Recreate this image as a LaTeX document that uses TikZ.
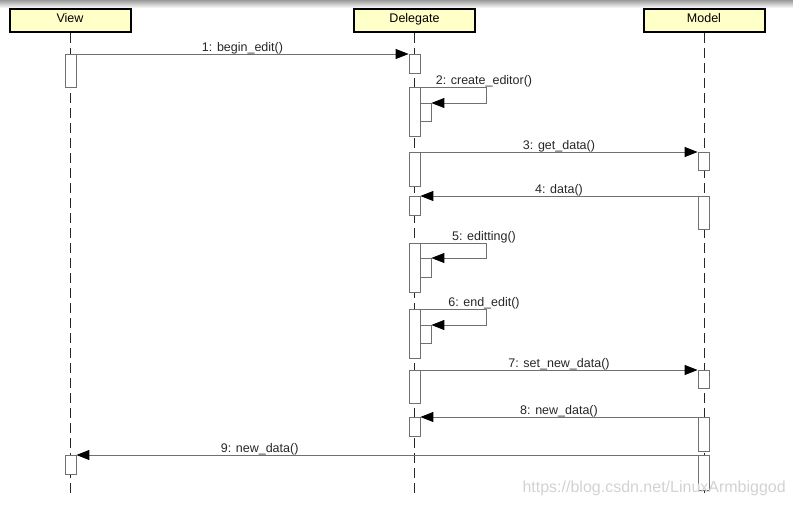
\documentclass[tikz,border=0pt]{standalone}
\usepackage{fontspec}
\setmainfont{Liberation Sans}
\usetikzlibrary{arrows.meta}
\tikzset{>={Triangle[length=13pt,width=10pt,color=black]}}
\definecolor{headyellow}{HTML}{FFFFC8}
\definecolor{msggray}{HTML}{707070}

\begin{document}
\begin{tikzpicture}[x=1pt, y=-1pt,
  head/.style={draw=black, line width=2pt, fill=headyellow, minimum width=121pt, minimum height=23pt, inner sep=0pt, text height=9pt, text depth=5pt, font=\fontsize{12.5}{14}\selectfont},
  life/.style={draw=black!85, line width=1pt, dash pattern=on 10pt off 5pt},
  act/.style={draw=msggray, line width=0.8pt, fill=white, minimum width=11pt, inner sep=0pt, anchor=north},
  msg/.style={draw=msggray, line width=0.9pt},
  lbl/.style={font=\fontsize{12.5}{14}\selectfont, text=black!85, inner sep=0pt, yshift=-0.5pt, anchor=south}]
\useasboundingbox (0,0) rectangle (793,506);
\shade[top color=gray!80, bottom color=white] (0,0) rectangle (793,8);

% objects
\node[head] (view) at (70,20.5) {View};
\node[head] (delegate) at (414.5,20.5) {Delegate};
\node[head] (model) at (704,20.5) {Model};

% lifelines
\coordinate (viewend) at (70,494);
\coordinate (delend) at (414.5,494);
\coordinate (modend) at (704,494);
\draw[life] (view.south) -- (viewend);
\draw[life] (delegate.south) -- (delend);
\draw[life] (model.south) -- (modend);

% activations
\node[act, minimum height=33pt] (v1) at (70.5,54) {};
\node[act, minimum height=19pt] (v2) at (70.5,455) {};
\node[act, minimum height=19pt] (d1) at (414.5,54) {};
\node[act, minimum height=49pt] (d2) at (414.5,87) {};
\node[act, minimum height=18pt] (d2n) at (425.5,103) {};
\node[act, minimum height=34pt] (d3) at (414.5,152) {};
\node[act, minimum height=19pt] (d4) at (414.5,196) {};
\node[act, minimum height=49pt] (d5) at (414.5,243) {};
\node[act, minimum height=19pt] (d5n) at (425.5,258) {};
\node[act, minimum height=49pt] (d6) at (414.5,309) {};
\node[act, minimum height=18pt] (d6n) at (425.5,325) {};
\node[act, minimum height=33pt] (d7) at (414.5,370) {};
\node[act, minimum height=19pt] (d8) at (414.5,417) {};
\node[act, minimum height=18pt] (m1) at (703.5,152) {};
\node[act, minimum height=33pt] (m2) at (703.5,196) {};
\node[act, minimum height=18pt] (m3) at (703.5,370) {};
\node[act, minimum height=34pt] (m4) at (703.5,417) {};
\node[act, minimum height=35pt] (m5) at (703.5,455) {};

% messages
\draw[msg, ->] (v1.north east) -- (d1.north west) node[lbl, midway] {1: begin\_edit()};
\draw[msg, ->] (d2.north east) -- (486,87) node[lbl, xshift=-2pt] {2: create\_editor()} -- (486,103) -- (d2n.north east);
\draw[msg, ->] (d3.north east) -- (m1.north west) node[lbl, midway] {3: get\_data()};
\draw[msg, ->] (m2.north west) -- (d4.north east) node[lbl, midway] {4: data()};
\draw[msg, ->] (d5.north east) -- (486,243) node[lbl, xshift=-2pt] {5: editting()} -- (486,258) -- (d5n.north east);
\draw[msg, ->] (d6.north east) -- (486,309) node[lbl, xshift=-2pt] {6: end\_edit()} -- (486,325) -- (d6n.north east);
\draw[msg, ->] (d7.north east) -- (m3.north west) node[lbl, midway] {7: set\_new\_data()};
\draw[msg, ->] (m4.north west) -- (d8.north east) node[lbl, midway] {8: new\_data()};
\draw[msg, ->] (m5.north west) -- (v2.north east) node[lbl, pos=0.705] {9: new\_data()};

% watermark
\node[anchor=base east, text=gray!35, font=\fontsize{16}{18}\selectfont, inner sep=0pt] (mark) at (786,492) {https://blog.csdn.net/LinuxArmbiggod};
\end{tikzpicture}
\end{document}
